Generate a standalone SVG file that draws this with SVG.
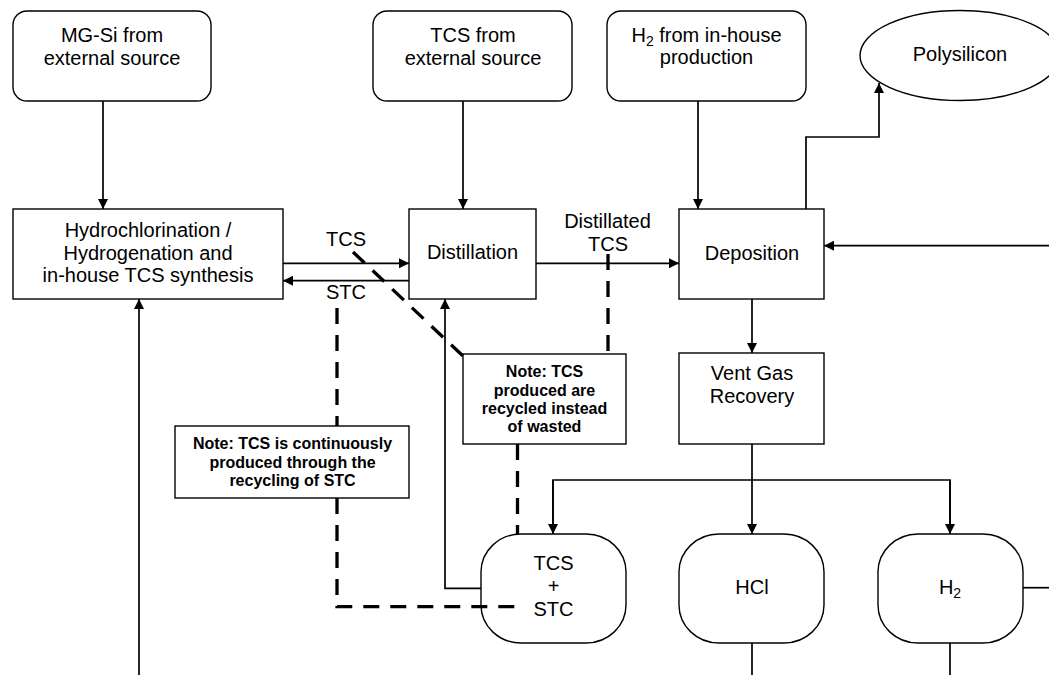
<svg xmlns="http://www.w3.org/2000/svg" width="1049" height="675" viewBox="0 0 1049 675">
<style>
.box{fill:#fff;stroke:#000;stroke-width:1.4}
.t{font-family:"Liberation Sans",Arial,sans-serif;font-size:20px;fill:#000;text-anchor:middle}
.n{font-family:"Liberation Sans",Arial,sans-serif;font-size:16px;font-weight:bold;fill:#000;text-anchor:middle}
.c{fill:none;stroke:#000;stroke-width:1.7}
.a{marker-end:url(#ah)}
.d{fill:none;stroke:#000;stroke-width:3.3;stroke-dasharray:16 11}
</style>
<defs>
<marker id="ah" viewBox="0 0 10 10" refX="10" refY="5" markerWidth="10" markerHeight="10" markerUnits="userSpaceOnUse" orient="auto">
<path d="M0,0 L10,5 L0,10 z" fill="#000"/>
</marker>
</defs>
<rect width="1049" height="675" fill="#fff"/>
<g id="nodes">
<g id="mgsi"><rect class="box" x="13" y="11" width="198" height="90" rx="14"/>
<text class="t" x="112" y="42">MG-Si from</text><text class="t" x="112" y="64.5">external source</text></g>
<g id="tcsext"><rect class="box" x="373" y="11" width="199" height="90" rx="14"/>
<text class="t" x="473" y="42">TCS from</text><text class="t" x="473" y="64.5">external source</text></g>
<g id="h2prod"><rect class="box" x="607" y="11" width="199" height="90" rx="14"/>
<text class="t" x="706.5" y="41.5">H<tspan font-size="14" dy="4">2</tspan><tspan dy="-4"> from in-house</tspan></text><text class="t" x="706.5" y="64">production</text></g>
<g id="poly"><ellipse class="box" cx="960" cy="55.5" rx="100" ry="45"/>
<text class="t" x="960" y="60.5">Polysilicon</text></g>
<g id="hydro"><rect class="box" x="13" y="209" width="270" height="90"/>
<text class="t" x="148" y="237">Hydrochlorination /</text><text class="t" x="148" y="259.5">Hydrogenation and</text><text class="t" x="148" y="282">in-house TCS synthesis</text></g>
<g id="dist"><rect class="box" x="409" y="209" width="127" height="90"/>
<text class="t" x="472.5" y="259">Distillation</text></g>
<g id="depo"><rect class="box" x="679" y="209" width="145" height="90"/>
<text class="t" x="752" y="259.5">Deposition</text></g>
<g id="vent"><rect class="box" x="679" y="353" width="145" height="91"/>
<text class="t" x="752" y="380">Vent Gas</text><text class="t" x="752" y="403">Recovery</text></g>
<g id="note1"><rect class="box" x="175" y="426" width="234" height="72"/>
<text class="n" x="292.5" y="449.3">Note: TCS is continuously</text><text class="n" x="292.5" y="467.6">produced through the</text><text class="n" x="292.5" y="486">recycling of STC</text></g>
<g id="note2"><rect class="box" x="463" y="354" width="163" height="90"/>
<text class="n" x="544.5" y="377.3">Note: TCS</text><text class="n" x="544.5" y="395.6">produced are</text><text class="n" x="544.5" y="414">recycled instead</text><text class="n" x="544.5" y="432">of wasted</text></g>
<g id="tcsstc"><rect class="box" x="481" y="534" width="145" height="109" rx="40" ry="38"/>
<text class="t" x="553.5" y="570">TCS</text><text class="t" x="553.5" y="593">+</text><text class="t" x="553.5" y="616">STC</text></g>
<g id="hcl"><rect class="box" x="679" y="534" width="145" height="109" rx="40" ry="38"/>
<text class="t" x="752" y="593.5">HCl</text></g>
<g id="h2"><rect class="box" x="878" y="534" width="145" height="109" rx="40" ry="38"/>
<text class="t" x="950" y="593.5">H<tspan font-size="14" dy="4">2</tspan></text></g>
</g>
<g id="connectors">
<line class="c a" x1="103" y1="101" x2="103" y2="209"/>
<line class="c a" x1="463" y1="101" x2="463" y2="209"/>
<line class="c a" x1="698" y1="101" x2="698" y2="209"/>
<polyline class="c a" points="806,209 806,137 879,137 879,83"/>
<line class="c a" x1="283" y1="263.3" x2="409" y2="263.3"/>
<line class="c a" x1="409" y1="280.7" x2="283" y2="280.7"/>
<line class="c a" x1="536" y1="263.3" x2="679" y2="263.3"/>
<line class="c a" x1="1049" y1="245.7" x2="824" y2="245.7"/>
<line class="c a" x1="752" y1="299" x2="752" y2="353"/>
<line class="c a" x1="752" y1="444" x2="752" y2="534"/>
<polyline class="c" points="553,534 553,480 950,480 950,534"/>
<line class="c a" x1="553" y1="480" x2="553" y2="534"/>
<line class="c a" x1="950" y1="480" x2="950" y2="534"/>
<polyline class="c a" points="481,588.3 445,588.3 445,299"/>
<line class="c a" x1="139" y1="675" x2="139" y2="299"/>
<line class="c" x1="1023" y1="587.7" x2="1049" y2="587.7"/>
<line class="c" x1="752" y1="643" x2="752" y2="675"/>
<line class="c" x1="950" y1="643" x2="950" y2="675"/>
<line class="d" x1="337" y1="308" x2="337" y2="426"/>
<polyline class="d" points="337,498 337,606.7 517.5,606.7"/>
<line class="d" x1="353" y1="252" x2="463" y2="356"/>
<line class="d" x1="608" y1="254" x2="608" y2="354"/>
<line class="d" x1="517.5" y1="444" x2="517.5" y2="534"/>
<text class="t" x="346" y="245.7">TCS</text>
<text class="t" x="346" y="299.3">STC</text>
<text class="t" x="607.5" y="228.3">Distillated</text>
<text class="t" x="608" y="250.7">TCS</text>
</g>
</svg>
